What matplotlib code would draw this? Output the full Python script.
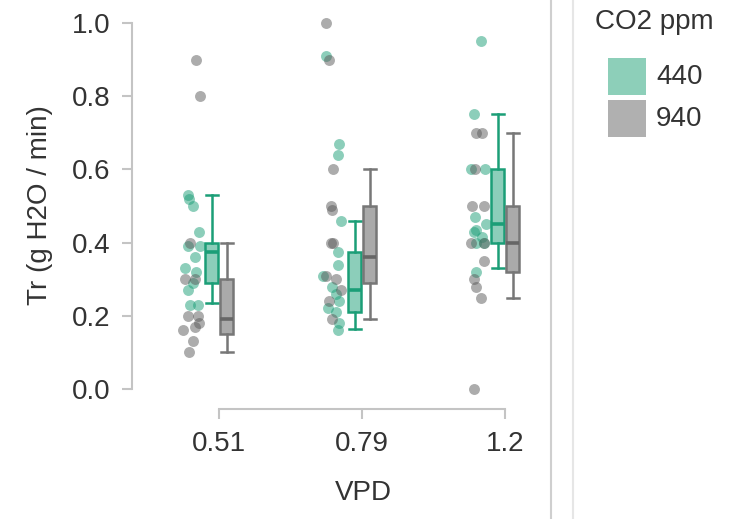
import matplotlib
matplotlib.use("Agg")
import matplotlib.pyplot as plt
from matplotlib.patches import Rectangle
from matplotlib.lines import Line2D

plt.rcParams['font.family'] = ['Liberation Sans', 'DejaVu Sans']

# ---------------- data ----------------
vpd_labels = ["0.51", "0.79", "1.2"]
co2_levels = ["440", "940"]

# observed points (Tr, g H2O / min)
pts_440 = [
    [0.53, 0.52, 0.50, 0.43, 0.39, 0.39, 0.36, 0.33, 0.32, 0.29, 0.27, 0.23, 0.23],
    [0.91, 0.67, 0.64, 0.46, 0.375, 0.34, 0.31, 0.28, 0.26, 0.24, 0.22, 0.21, 0.18, 0.16],
    [0.95, 0.75, 0.60, 0.60, 0.47, 0.45, 0.435, 0.43, 0.415, 0.40, 0.40, 0.32],
]
pts_940 = [
    [0.90, 0.80, 0.40, 0.30, 0.30, 0.20, 0.20, 0.18, 0.16, 0.17, 0.13, 0.10],
    [1.00, 0.90, 0.60, 0.50, 0.49, 0.40, 0.40, 0.31, 0.30, 0.27, 0.24, 0.19],
    [0.70, 0.70, 0.60, 0.50, 0.50, 0.40, 0.40, 0.35, 0.30, 0.28, 0.25, 0.00],
]
# horizontal jitter of each point (in category units)
jit_440 = [
    [-0.22, -0.21, -0.18, -0.14, -0.22, -0.13, -0.17, -0.24, -0.16, -0.18, -0.22, -0.20, -0.15],
    [-0.25, -0.16, -0.17, -0.15, -0.17, -0.17, -0.27, -0.21, -0.18, -0.16, -0.24, -0.18, -0.16, -0.17],
    [-0.17, -0.22, -0.24, -0.14, -0.21, -0.13, -0.20, -0.22, -0.16, -0.20, -0.15, -0.20],
]
jit_940 = [
    [-0.16, -0.13, -0.20, -0.24, -0.17, -0.22, -0.15, -0.14, -0.25, -0.17, -0.18, -0.21],
    [-0.25, -0.23, -0.20, -0.22, -0.21, -0.22, -0.20, -0.25, -0.18, -0.15, -0.23, -0.21],
    [-0.20, -0.16, -0.21, -0.23, -0.15, -0.24, -0.15, -0.15, -0.22, -0.20, -0.17, -0.22],
]

# box summary statistics
box_440_whislo = [0.235, 0.165, 0.33]
box_440_q1 = [0.29, 0.21, 0.40]
box_440_med = [0.375, 0.27, 0.45]
box_440_q3 = [0.40, 0.375, 0.60]
box_440_whishi = [0.53, 0.46, 0.75]

box_940_whislo = [0.10, 0.19, 0.25]
box_940_q1 = [0.15, 0.29, 0.32]
box_940_med = [0.19, 0.36, 0.40]
box_940_q3 = [0.30, 0.50, 0.50]
box_940_whishi = [0.40, 0.60, 0.70]

# ---------------- style ----------------
GREEN = "#1b9e77"
GRAY = "#5a5a5a"
BOX_GRAY_EDGE = "#777777"
TEXT = "#333333"
SPINE = "#c4c4c4"

W, H = 739, 519
fig = plt.figure(figsize=(W / 100, H / 100), dpi=100)

xlim = (-0.45, 2.2)
ylim = (-0.08, 1.03)
px_per_x = 143.0
px_per_y = 366.0
ax_left_px = 219 - (0 - xlim[0]) * px_per_x
ax_bottom_px = 389 + (0 - ylim[0]) * px_per_y
ax_w = (xlim[1] - xlim[0]) * px_per_x
ax_h = (ylim[1] - ylim[0]) * px_per_y
ax = fig.add_axes([ax_left_px / W, (H - ax_bottom_px) / H, ax_w / W, ax_h / H])
ax.set_xlim(*xlim)
ax.set_ylim(*ylim)
ax.patch.set_alpha(0)

positions = list(range(len(vpd_labels)))

# points
for i in positions:
    ax.scatter([i + j for j in jit_440[i]], pts_440[i], s=62, color=GREEN,
               alpha=0.5, linewidths=0, zorder=2)
    ax.scatter([i + j for j in jit_940[i]], pts_940[i], s=62, color=GRAY,
               alpha=0.5, linewidths=0, zorder=2)

def make_stats(lo, q1, med, q3, hi):
    return [dict(whislo=lo[k], q1=q1[k], med=med[k], q3=q3[k], whishi=hi[k],
                 fliers=[]) for k in range(len(lo))]

stats_440 = make_stats(box_440_whislo, box_440_q1, box_440_med, box_440_q3, box_440_whishi)
stats_940 = make_stats(box_940_whislo, box_940_q1, box_940_med, box_940_q3, box_940_whishi)

bw = 0.09
cw = 0.085
ax.bxp(stats_440, positions=[p - 0.05 for p in positions], widths=bw,
       capwidths=cw, patch_artist=True, showfliers=False, manage_ticks=False,
       boxprops=dict(facecolor=(27/255, 158/255, 119/255, 0.5), edgecolor=GREEN, linewidth=1.8),
       whiskerprops=dict(color=GREEN, linewidth=1.8),
       capprops=dict(color=GREEN, linewidth=1.8),
       medianprops=dict(color=GREEN, linewidth=2.6), zorder=3)
ax.bxp(stats_940, positions=[p + 0.055 for p in positions], widths=bw,
       capwidths=cw, patch_artist=True, showfliers=False, manage_ticks=False,
       boxprops=dict(facecolor="#aaaaaa", edgecolor=BOX_GRAY_EDGE, linewidth=1.8),
       whiskerprops=dict(color=BOX_GRAY_EDGE, linewidth=1.8),
       capprops=dict(color=BOX_GRAY_EDGE, linewidth=1.8),
       medianprops=dict(color="#666666", linewidth=2.6), zorder=3)

# axes styling
ax.set_xticks(positions)
ax.set_xticklabels(vpd_labels)
ax.set_yticks([0.0, 0.2, 0.4, 0.6, 0.8, 1.0])
ax.set_yticklabels(["0.0", "0.2", "0.4", "0.6", "0.8", "1.0"])
for s in ["top", "right"]:
    ax.spines[s].set_visible(False)
ax.spines["left"].set_position(("data", -0.605))
ax.spines["left"].set_bounds(0, 1)
ax.spines["bottom"].set_position(("data", -0.055))
ax.spines["bottom"].set_bounds(0, 2)
for s in ["left", "bottom"]:
    ax.spines[s].set_color(SPINE)
    ax.spines[s].set_linewidth(1.5)
ax.tick_params(axis="both", colors=SPINE, labelcolor=TEXT, labelsize=20,
               width=1.5, length=7.5, pad=8.5)

fig.text(40 / W, 1 - 205 / H, "Tr (g H2O / min)", rotation=90, ha="center",
         va="center", fontsize=20, color=TEXT)
fig.text(363 / W, 1 - 493 / H, "VPD", ha="center", va="center",
         fontsize=20, color=TEXT)

# separator lines
fig.add_artist(Line2D([551 / W] * 2, [0, 1], transform=fig.transFigure,
                      color="#cfcfcf", linewidth=1.5))
fig.add_artist(Line2D([573 / W] * 2, [0, 1], transform=fig.transFigure,
                      color="#e6e6e6", linewidth=1.5))

# legend (drawn in figure pixel layout)
legend_colors = ["#8dcfb9", "#b0b0b0"]
fig.text(654 / W, 1 - 22 / H, "CO2 ppm", ha="center", va="center",
         fontsize=20, color=TEXT)
for k, (lab, col) in enumerate(zip(co2_levels, legend_colors)):
    top = 58 + k * 42
    fig.add_artist(Rectangle((608 / W, 1 - (top + 37) / H), 38 / W, 37 / H,
                             transform=fig.transFigure, facecolor=col,
                             edgecolor="none"))
    fig.text(656 / W, 1 - (top + 19) / H, lab, ha="left", va="center",
             fontsize=20, color=TEXT)

fig.savefig("out.png", dpi=100)
